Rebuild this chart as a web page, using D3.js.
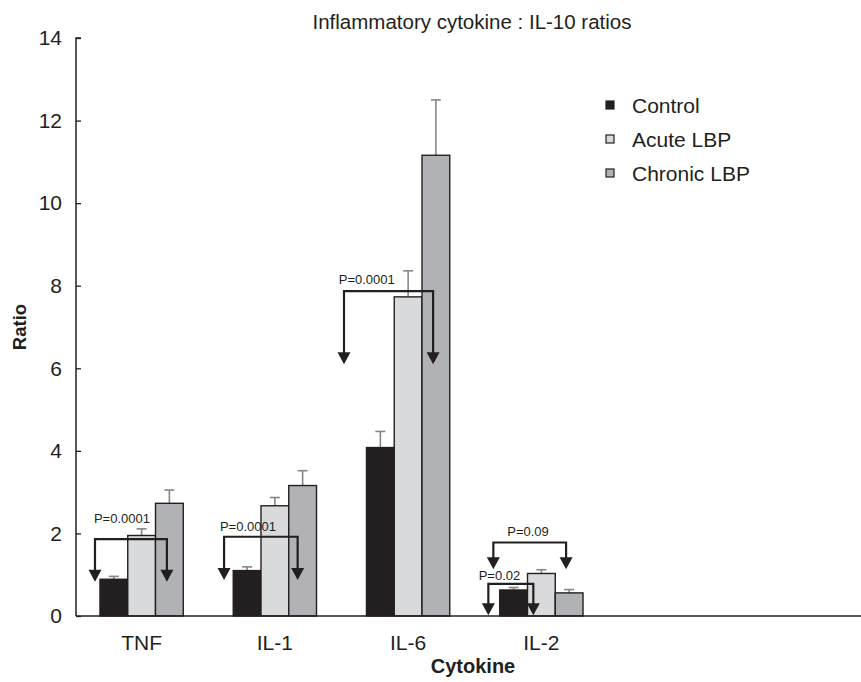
<!DOCTYPE html>
<html>
<head>
<meta charset="utf-8">
<title>Inflammatory cytokine : IL-10 ratios</title>
<script src="https://d3js.org/d3.v7.min.js"></script>
<style>
  body { margin: 0; background: #fff; }
  svg text { font-family: "Liberation Sans", Arial, Helvetica, sans-serif; fill: #231f20; }
</style>
</head>
<body>
<div id="chart"></div>
<script>
// data
const cytokines = ["TNF", "IL-1", "IL-6", "IL-2"];
const groups = ["Control", "Acute LBP", "Chronic LBP"];
const control = [0.89, 1.10, 4.08, 0.63];
const controlErr = [0.07, 0.09, 0.39, 0.06];
const acute = [1.95, 2.67, 7.73, 1.03];
const acuteErr = [0.16, 0.20, 0.63, 0.09];
const chronic = [2.73, 3.16, 11.16, 0.56];
const chronicErr = [0.32, 0.36, 1.34, 0.08];
const yTicks = [0, 2, 4, 6, 8, 10, 12, 14];
// brackets: level / tip / label in ratio units, from / to / at in bar widths from group start
const brackets = [
  {cytokine: "TNF",  label: "P=0.0001", level: 1.86, tip: 0.83, labelY: 2.26, from: -0.18, to: 2.41, at: 0.79},
  {cytokine: "IL-1", label: "P=0.0001", level: 1.92, tip: 0.87, labelY: 2.07, from: -0.33, to: 2.32, at: 0.53},
  {cytokine: "IL-6", label: "P=0.0001", level: 7.87, tip: 6.10, labelY: 8.04, from: -0.81, to: 2.40, at: 0.01},
  {cytokine: "IL-2", label: "P=0.09",   level: 1.78, tip: 1.13, labelY: 1.94, from: -0.23, to: 2.39, at: 1.02},
  {cytokine: "IL-2", label: "P=0.02",   level: 0.78, tip: 0.02, labelY: 0.87, from: -0.41, to: 1.21, at: -0.01}
];

const colors = {"Control": "#231f20", "Acute LBP": "#d9dadc", "Chronic LBP": "#b1b2b5"};
const values = {"Control": control, "Acute LBP": acute, "Chronic LBP": chronic};
const errors = {"Control": controlErr, "Acute LBP": acuteErr, "Chronic LBP": chronicErr};

const width = 861, height = 682;
const svg = d3.select("#chart").append("svg")
  .attr("width", width).attr("height", height);

const x = d3.scaleBand().domain(cytokines).range([76, 607])
  .paddingInner(0.375).paddingOuter(0.18);
const xs = d3.scaleBand().domain(groups).range([0, x.bandwidth()]);
const y = d3.scaleLinear().domain([0, 14]).range([616, 38]);
const bw = xs.bandwidth();

// title
svg.append("text").attr("x", 472).attr("y", 29).attr("text-anchor", "middle")
  .style("font-size", "20.5px").text("Inflammatory cytokine : IL-10 ratios");

// bars
const rows = [];
cytokines.forEach((c, i) => groups.forEach(g => rows.push({c, g, v: values[g][i], e: errors[g][i]})));

const bar = svg.append("g").selectAll("g").data(rows).join("g")
  .attr("transform", d => `translate(${x(d.c) + xs(d.g)},0)`);

bar.append("line")
  .attr("x1", bw / 2).attr("x2", bw / 2)
  .attr("y1", d => y(d.v)).attr("y2", d => y(d.v + d.e))
  .attr("stroke", "#85868a").attr("stroke-width", 1.6);
bar.append("line")
  .attr("x1", bw / 2 - 5).attr("x2", bw / 2 + 5)
  .attr("y1", d => y(d.v + d.e)).attr("y2", d => y(d.v + d.e))
  .attr("stroke", "#85868a").attr("stroke-width", 1.6);
bar.append("rect")
  .attr("x", 0).attr("width", bw)
  .attr("y", d => y(d.v)).attr("height", d => y(0) - y(d.v))
  .attr("fill", d => colors[d.g])
  .attr("stroke", "#231f20").attr("stroke-width", 1.4);

// axes
const yAxis = svg.append("g").attr("transform", "translate(76,0)")
  .call(d3.axisRight(y).tickValues(yTicks).tickSize(5).tickFormat(d3.format("d")));
yAxis.select(".domain").attr("stroke", "#231f20").attr("stroke-width", 1.5).attr("d", `M5,${y(14)}H0V${y(0)}`);
yAxis.selectAll(".tick line").attr("stroke", "#231f20").attr("stroke-width", 1.3);
yAxis.selectAll(".tick text").attr("x", -14).attr("text-anchor", "end")
  .style("font-size", "21px").attr("fill", "#231f20");

svg.append("line").attr("x1", 76).attr("x2", 861).attr("y1", y(0)).attr("y2", y(0))
  .attr("stroke", "#231f20").attr("stroke-width", 1.5);

svg.append("g").selectAll("text").data(cytokines).join("text")
  .attr("x", d => x(d) + x.bandwidth() / 2).attr("y", 650)
  .attr("text-anchor", "middle").style("font-size", "21px").text(d => d);

svg.append("text").attr("x", 473).attr("y", 673).attr("text-anchor", "middle")
  .style("font-size", "20px").style("font-weight", "bold").text("Cytokine");
svg.append("text").attr("transform", "translate(26,327) rotate(-90)")
  .attr("text-anchor", "middle").style("font-size", "18.5px").style("font-weight", "bold").text("Ratio");

// significance brackets
const bk = svg.append("g").selectAll("g").data(brackets).join("g");
const bx = (d, p) => x(d.cytokine) + p * bw;
bk.append("path")
  .attr("d", d => `M${bx(d, d.from)},${y(d.tip) - 10}V${y(d.level)}H${bx(d, d.to)}V${y(d.tip) - 10}`)
  .attr("fill", "none").attr("stroke", "#231f20").attr("stroke-width", 2.2);
["from", "to"].forEach(k => {
  bk.append("path")
    .attr("d", d => `M${bx(d, d[k]) - 6.5},${y(d.tip) - 12}L${bx(d, d[k]) + 6.5},${y(d.tip) - 12}L${bx(d, d[k])},${y(d.tip)}Z`)
    .attr("fill", "#231f20");
});
bk.append("text")
  .attr("x", d => bx(d, d.at)).attr("y", d => y(d.labelY))
  .attr("text-anchor", "middle").style("font-size", "13px").text(d => d.label);

// legend
const lg = svg.append("g").selectAll("g").data(groups).join("g")
  .attr("transform", (d, i) => `translate(606,${105 + i * 34})`);
lg.append("rect").attr("x", 0).attr("y", -4).attr("width", 8).attr("height", 8)
  .attr("fill", d => colors[d]).attr("stroke", "#231f20").attr("stroke-width", 1.2);
lg.append("text").attr("x", 26).attr("y", 7.5).style("font-size", "21px").text(d => d);
</script>
</body>
</html>
